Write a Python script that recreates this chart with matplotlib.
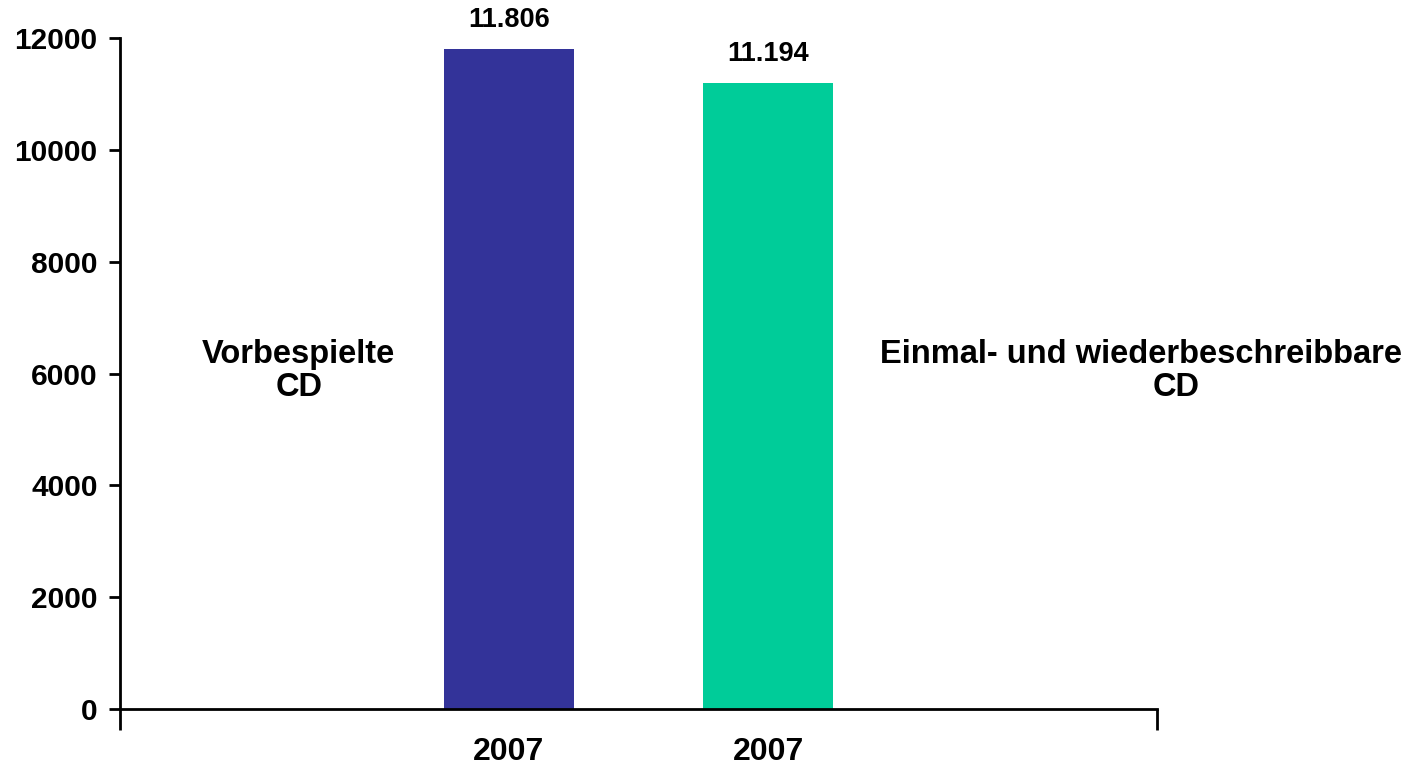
import matplotlib
matplotlib.use("Agg")
import matplotlib.pyplot as plt

categories = ["", "2007", "2007", ""]
values = [None, 11806, 11194, None]
value_labels = ["11.806", "11.194"]
colors = ["#333399", "#00CC99"]
yticks = [0, 2000, 4000, 6000, 8000, 10000, 12000]

plt.rcParams['font.family'] = ['Liberation Sans', 'DejaVu Sans']
plt.rcParams['font.weight'] = 'bold'

fig = plt.figure(figsize=(14.23, 7.65), dpi=100)
ax = fig.add_axes([0.0843, 0.0732, 0.8131 - 0.0843, 0.9503 - 0.0732])

xs = [1, 2]
bar_vals = [values[1], values[2]]
ax.bar(xs, bar_vals, width=0.5, color=colors)
for x, v, lab in zip(xs, bar_vals, value_labels):
    ax.text(x, v + 280, lab, ha='center', va='bottom', fontsize=19.5, fontweight='bold')

ax.set_xlim(-0.5, 3.5)
ax.set_ylim(0, 12000)
ax.set_yticks(yticks)
ax.set_yticklabels([str(t) for t in yticks], fontsize=21.5, fontweight='bold')
ax.set_xticks(xs)
ax.set_xticklabels([categories[1], categories[2]], fontsize=23, fontweight='bold')
ax.set_xticks([-0.5, 3.5], minor=True)
ax.tick_params(axis='x', which='major', length=0, pad=20)
ax.tick_params(axis='x', which='minor', length=15, width=2, direction='out')
ax.tick_params(axis='y', which='major', length=8, width=2, direction='out', pad=8)

for s in ['top', 'right']:
    ax.spines[s].set_visible(False)
for s in ['left', 'bottom']:
    ax.spines[s].set_linewidth(2)

fs = 23.5
ax.text(0.19, 6187, "Vorbespielte", ha='center', va='baseline', fontsize=fs, fontweight='bold', clip_on=False)
ax.text(0.19, 5600, "CD", ha='center', va='baseline', fontsize=fs, fontweight='bold', clip_on=False)
ax.text(3.438, 6187, "Einmal- und wiederbeschreibbare", ha='center', va='baseline', fontsize=fs, fontweight='bold', clip_on=False)
ax.text(3.573, 5600, "CD", ha='center', va='baseline', fontsize=fs, fontweight='bold', clip_on=False)

fig.savefig("out.png", dpi=100)
